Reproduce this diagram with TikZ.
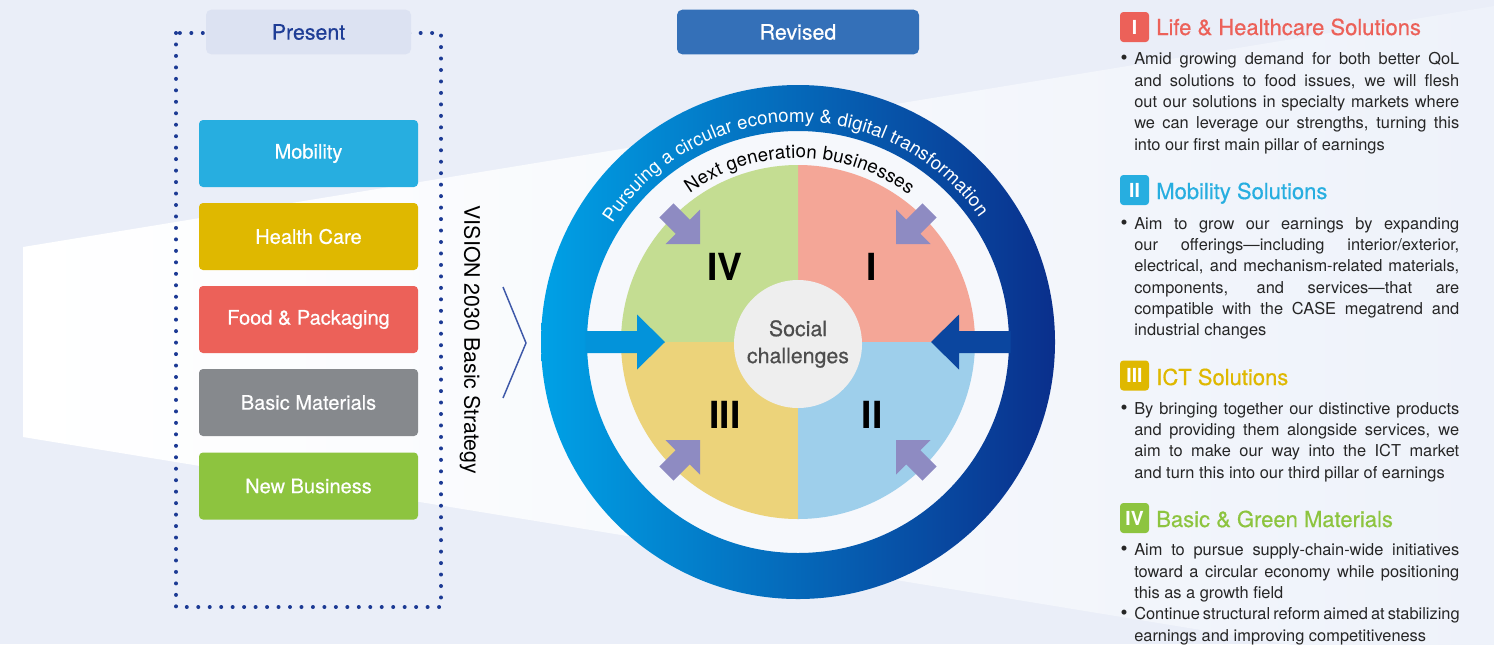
\documentclass[tikz,border=0pt]{standalone}
\usepackage{fontspec}
\setmainfont{TeX Gyre Heros}
\newfontfamily\medfont{TeX Gyre Heros}[FakeBold=0.5]
\usetikzlibrary{decorations.text}

\definecolor{bgblue}{RGB}{234,238,248}
\definecolor{beamright}{RGB}{238,242,250}
\definecolor{gapwhite}{RGB}{246,248,252}
\definecolor{dotblue}{RGB}{28,58,148}
\definecolor{presentfill}{RGB}{220,226,242}
\definecolor{presenttext}{RGB}{31,61,150}
\definecolor{revisedfill}{RGB}{52,112,184}
\definecolor{mobblue}{RGB}{39,174,224}
\definecolor{careyellow}{RGB}{223,184,0}
\definecolor{foodred}{RGB}{236,97,89}
\definecolor{basicgray}{RGB}{134,137,141}
\definecolor{newgreen}{RGB}{141,196,63}
\definecolor{ringleft}{RGB}{0,161,230}
\definecolor{ringright}{RGB}{10,47,140}
\definecolor{arrowleft}{RGB}{3,147,218}
\definecolor{arrowright}{RGB}{11,70,159}
\definecolor{quadI}{RGB}{244,166,151}
\definecolor{quadII}{RGB}{158,207,235}
\definecolor{quadIII}{RGB}{236,211,122}
\definecolor{quadIV}{RGB}{196,221,146}
\definecolor{socialfill}{RGB}{238,238,238}
\definecolor{socialtext}{RGB}{77,77,77}
\definecolor{arrowpurple}{RGB}{142,139,194}
\definecolor{chevblue}{RGB}{62,88,168}
\definecolor{bodygray}{RGB}{38,38,38}

\newcommand{\jl}[1]{\makebox[243.75pt][s]{#1}}
\newcommand{\arcfont}{\fontsize{14}{16}\selectfont}
\newcommand{\bul}{\llap{{\fontsize{15}{15}\selectfont\textbullet}\hspace{5pt}}}

\tikzset{
  catbox/.style={rounded corners=3pt, minimum width=164.25pt, minimum height=50.25pt, inner sep=0pt, text=white, font=\medfont\fontsize{15}{18}\selectfont},
  tabbox/.style={rounded corners=4pt, minimum height=33.5pt, inner sep=0pt, font=\medfont\fontsize{16}{19}\selectfont},
  badge/.style={rounded corners=2.5pt, minimum width=21.75pt, minimum height=22.5pt, inner sep=0pt, text=white, font=\fontsize{14.5}{15}\selectfont\bfseries},
  heading/.style={anchor=base west, inner sep=0pt, font=\medfont\fontsize{16.5}{20}\selectfont},
  % base anchor of these nodes sits on their last line
  bodytext/.style={anchor=base west, inner sep=0pt, align=left, text=bodygray, font=\fontsize{12.3}{16}\selectfont},
  numeral/.style={inner sep=0pt, font=\fontsize{28}{28}\selectfont\bfseries},
  dotframe/.style={draw=dotblue, line width=3pt, line cap=round, dash pattern=on 0pt off 8.6pt},
  chevron/.style={draw=chevblue, line width=1.1pt},
  pusharrow/.pic={\fill[arrowpurple] (0,0) -- (-24.4,24.4) -- (-24.4,10) -- (-47.4,10) -- (-47.4,-10) -- (-24.4,-10) -- (-24.4,-24.4) -- cycle;}
}

\begin{document}
\begin{tikzpicture}[x=0.75pt,y=0.75pt,yscale=-1,xscale=1]
\useasboundingbox (0,0) rectangle (1494,644);
\clip (0,0) rectangle (1494,644);

%Shape: Background
\fill[bgblue] (0,0) rectangle (1494,644);
%Shape: Light beam
\shade[left color=white, right color=beamright] (23,247) -- (1494,6) -- (1494,678) -- (23,437) -- cycle;

%Shape: Dotted frame
\draw[dotframe] (176,33) rectangle (441,607);

% Text Node
\node[tabbox, fill=presentfill, text=presenttext, minimum width=153.75pt] (present) at (308.5,32) {Present};
% Text Node
\node[tabbox, fill=revisedfill, text=white, minimum width=181.5pt] (revised) at (798,32) {Revised};

% Text Node
\node[catbox, fill=mobblue] (mobility) at (308.5,153.5) {Mobility};
% Text Node
\node[catbox, fill=careyellow] (healthcare) at (308.5,236.5) {Health Care};
% Text Node
\node[catbox, fill=foodred] (food) at (308.5,319.5) {Food \& Packaging};
% Text Node
\node[catbox, fill=basicgray] (basic) at (308.5,402.5) {Basic Materials};
% Text Node
\node[catbox, fill=newgreen] (newbiz) at (308.5,486) {New Business};

% Text Node
\node[rotate=-90, inner sep=0pt, font=\fontsize{16}{19}\selectfont] (vision) at (470,340) {VISION 2030 Basic Strategy};
%Straight Lines: chevron
\draw[chevron] (503,287) -- (526,343) -- (503,398);

%Shape: Circle diagram
\begin{scope}[shift={(798,342)}, yscale=-1]
  \fill[gapwhite] (0,0) circle[radius=212];
  \shade[left color=ringleft, right color=ringright, even odd rule] (0,0) circle[radius=257] (0,0) circle[radius=211];
  %Shape: Quadrants
  \fill[quadI] (0,0) -- (0:177) arc[start angle=0, end angle=90, radius=177] -- cycle;
  \fill[quadIV] (0,0) -- (90:177) arc[start angle=90, end angle=180, radius=177] -- cycle;
  \fill[quadIII] (0,0) -- (180:177) arc[start angle=180, end angle=270, radius=177] -- cycle;
  \fill[quadII] (0,0) -- (270:177) arc[start angle=270, end angle=360, radius=177] -- cycle;
  %Shape: Horizontal arrows
  \fill[arrowleft] (-212.5,11) -- (-161,11) -- (-161,27.5) -- (-133,0) -- (-161,-27.5) -- (-161,-11) -- (-212.5,-11) -- cycle;
  \fill[arrowright] (212.5,11) -- (161,11) -- (161,27.5) -- (133,0) -- (161,-27.5) -- (161,-11) -- (212.5,-11) -- cycle;
  %Shape: Diagonal arrows
  \pic[rotate=-45] at (-98,98) {pusharrow};
  \pic[rotate=-135] at (98,98) {pusharrow};
  \pic[rotate=45] at (-98,-98) {pusharrow};
  \pic[rotate=135] at (98,-98) {pusharrow};
  % Text Node
  \node[circle, fill=socialfill, minimum size=96pt, inner sep=0pt, align=center, text=socialtext, font=\medfont\fontsize{16}{20.25}\selectfont] (social) at (0,-2) {Social\\challenges};
  % Text Node
  \node[numeral] (numI) at (74,75) {I};
  \node[numeral] (numII) at (74,-73) {II};
  \node[numeral] (numIII) at (-73,-73) {III};
  \node[numeral] (numIV) at (-73,75) {IV};
  %Curved texts
  \path[decorate, decoration={text along path, text align={fit to path}, text={|\arcfont\color{white}|Pursuing a circular economy {\&} digital transformation}}] (147.5:220) arc[start angle=147.5, end angle=34.5, radius=220];
  \path[decorate, decoration={text along path, text align={fit to path}, text={|\arcfont\color{black}|Next generation businesses}}] (126:184) arc[start angle=126, end angle=53, radius=184];
\end{scope}

% Text Node
\node[badge, fill=foodred] (badgeI) at (1134.5,27) {I};
\node[heading, text=foodred] (headI) at (1156,35) {Life \& Healthcare Solutions};
\node[bodytext] (bodyI) at (1134,150.3) {\bul\jl{Amid growing demand for both better QoL}\\
\jl{and solutions to food issues, we will flesh}\\
\jl{out our solutions in specialty markets where}\\
\jl{we can leverage our strengths, turning this}\\
into our first main pillar of earnings};

% Text Node
\node[badge, fill=mobblue] (badgeII) at (1134.5,190) {II};
\node[heading, text=mobblue] (headII) at (1156,199) {Mobility Solutions};
\node[bodytext] (bodyII) at (1134,335.7) {\bul\jl{Aim to grow our earnings by expanding}\\
\jl{our offerings—including interior/exterior,}\\
\jl{electrical, and mechanism-related materials,}\\
\jl{components, and services—that are}\\
\jl{compatible with the CASE megatrend and}\\
industrial changes};

% Text Node
\node[badge, fill=careyellow] (badgeIII) at (1134.5,375.5) {III};
\node[heading, text=careyellow] (headIII) at (1156,385) {ICT Solutions};
\node[bodytext] (bodyIII) at (1134,478) {\bul\jl{By bringing together our distinctive products}\\
\jl{and providing them alongside services, we}\\
\jl{aim to make our way into the ICT market}\\
and turn this into our third pillar of earnings};

% Text Node
\node[badge, fill=newgreen] (badgeIV) at (1134.5,518) {IV};
\node[heading, text=newgreen] (headIV) at (1156,527) {Basic \& Green Materials};
\node[bodytext] (bodyIV) at (1134,641.3) {\bul\jl{Aim to pursue supply-chain-wide initiatives}\\
\jl{toward a circular economy while positioning}\\
this as a growth field\\
\bul\jl{Continue structural reform aimed at stabilizing}\\
earnings and improving competitiveness};

\end{tikzpicture}
\end{document}
